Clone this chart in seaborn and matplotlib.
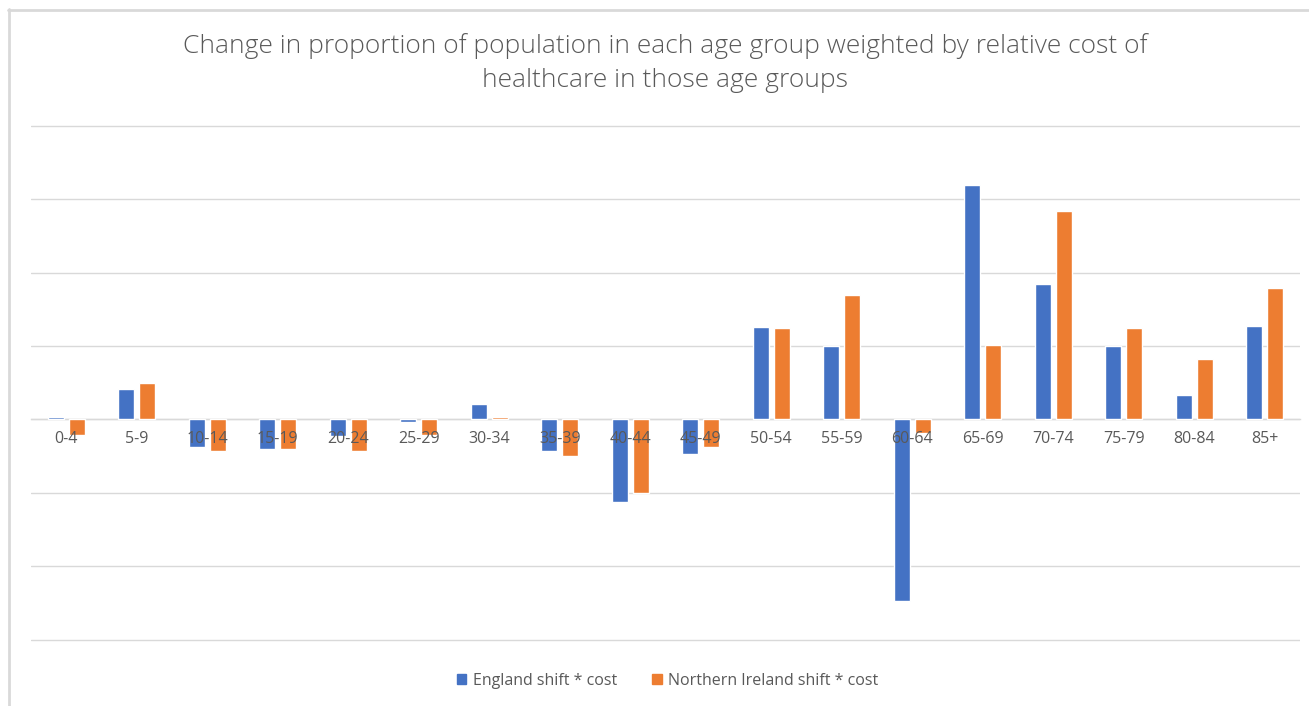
import matplotlib
matplotlib.use("Agg")
import matplotlib.pyplot as plt
import seaborn as sns
import pandas as pd
from matplotlib.lines import Line2D
from matplotlib.patches import Patch

age_groups = ["0-4", "5-9", "10-14", "15-19", "20-24", "25-29", "30-34", "35-39", "40-44",
              "45-49", "50-54", "55-59", "60-64", "65-69", "70-74", "75-79", "80-84", "85+"]
england = [0.03, 0.42, -0.38, -0.40, -0.23, -0.03, 0.21, -0.43, -1.13,
           -0.47, 1.26, 1.00, -2.47, 3.19, 1.85, 1.00, 0.33, 1.28]
northern_ireland = [-0.21, 0.49, -0.43, -0.40, -0.43, -0.21, 0.03, -0.50, -1.00,
                    -0.37, 1.25, 1.70, -0.19, 1.02, 2.84, 1.24, 0.82, 1.79]
series_names = ["England shift * cost", "Northern Ireland shift * cost"]
colors = ["#4472C4", "#ED7D31"]
title = ("Change in proportion of population in each age group weighted by relative cost of\n"
         "healthcare in those age groups")

df = pd.DataFrame({
    "age": age_groups * 2,
    "value": england + northern_ireland,
    "series": [series_names[0]] * len(age_groups) + [series_names[1]] * len(age_groups),
})

sns.set_style("white")
plt.rcParams["font.family"] = ["Open Sans", "DejaVu Sans"]
text_gray = "#595959"
grid_gray = "#d9d9d9"

# plot area: y from -3 to 4 maps to pixel rows 639.5 .. 126 (73.36 px per unit)
px_per_unit = 513.5 / 7
pad = 4 / px_per_unit
fig = plt.figure(figsize=(13.09, 7.06), dpi=100)
ax = fig.add_axes([31 / 1309, 1 - 643.5 / 706, 1269 / 1309, 521.5 / 706])

sns.barplot(data=df, x="age", y="value", hue="series", order=age_groups,
            hue_order=series_names, palette=colors, width=0.6, gap=0.24,
            saturation=1, legend=False, ax=ax, zorder=3)

ax.set_ylim(-3 - pad, 4 + pad)
ax.set_xlim(-0.5, len(age_groups) - 0.5)
ax.set_yticks(range(-3, 5))
ax.set_yticklabels([])
ax.tick_params(axis="y", length=0)
ax.yaxis.grid(True, color=grid_gray, linewidth=1.0)
ax.set_axisbelow(True)
# category labels sit on top of the bars, as in a spreadsheet chart
ax.xaxis.set_zorder(5)
for side in ["left", "right", "top"]:
    ax.spines[side].set_visible(False)
ax.spines["bottom"].set_position(("data", 0))
ax.spines["bottom"].set_color(grid_gray)
ax.spines["bottom"].set_linewidth(1.0)
ax.spines["bottom"].set_zorder(2)
ax.tick_params(axis="x", length=0, pad=8, labelsize=11.5, labelcolor=text_gray)
ax.set_xlabel("")
ax.set_ylabel("")

fig.text(0.508, 1 - 63 / 706, title, ha="center", va="center", fontsize=19,
         color=text_gray, fontweight="light", linespacing=1.5)

handles = [Patch(facecolor=c, edgecolor=c) for c in colors]
fig.legend(handles, series_names, loc="center", bbox_to_anchor=(0.51, 1 - 681 / 706),
           ncol=2, frameon=False, fontsize=11.5, labelcolor=text_gray,
           handlelength=0.6, handleheight=0.6, handletextpad=0.4, columnspacing=2.2)

# chart-area border along the top and left edges
fig.add_artist(Line2D([8.5 / 1309, 8.5 / 1309], [0, 1 - 9 / 706], color=grid_gray,
                      linewidth=2, transform=fig.transFigure))
fig.add_artist(Line2D([8 / 1309, 1], [1 - 9.5 / 706, 1 - 9.5 / 706], color=grid_gray,
                      linewidth=2, transform=fig.transFigure))

fig.savefig("out.png", dpi=100)
